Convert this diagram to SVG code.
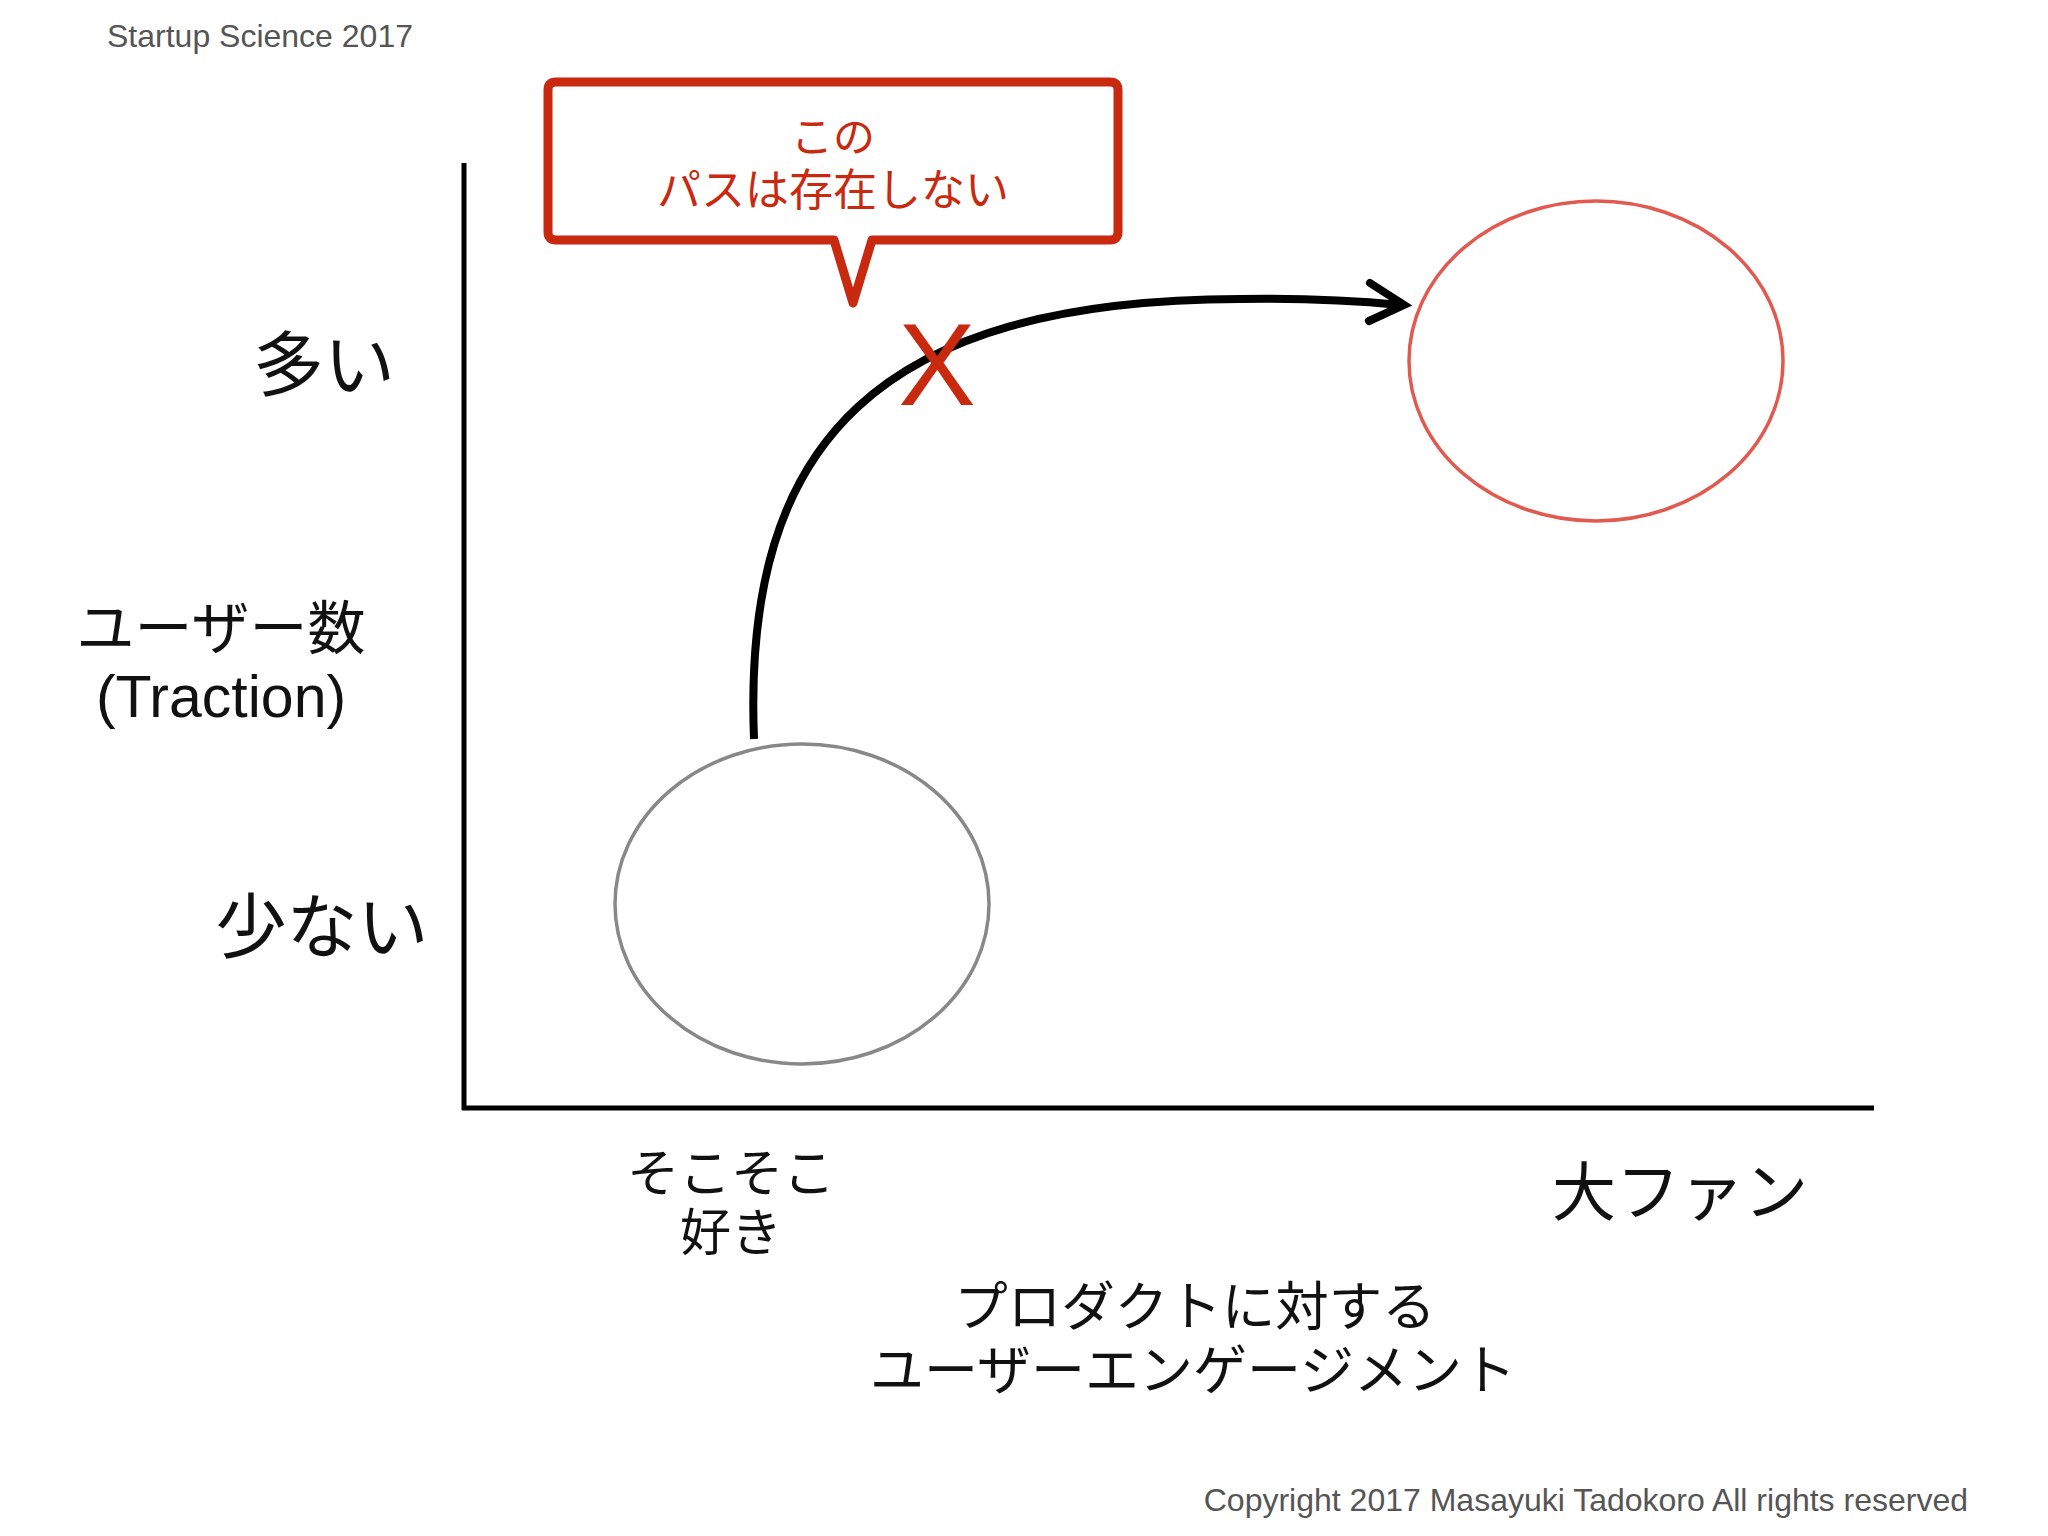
<svg xmlns="http://www.w3.org/2000/svg" width="2048" height="1536" viewBox="0 0 2048 1536">
<style>
.meta{font-family:"Liberation Sans",Arial,sans-serif;font-size:32px;fill:#555555}
.jp{font-family:"Noto Sans CJK JP","Noto Sans",sans-serif;fill:#111111}
.red{fill:#c8290f}
.axis{stroke:#000;stroke-width:5;fill:none}
</style>
<rect width="2048" height="1536" fill="#ffffff"/>
<text class="meta" x="107" y="47">Startup Science 2017</text>
<text class="meta" x="1968" y="1511" text-anchor="end">Copyright 2017 Masayuki Tadokoro All rights reserved</text>

<g id="axes">
<line class="axis" x1="464" y1="163" x2="464" y2="1110"/>
<line class="axis" x1="462" y1="1108" x2="1874" y2="1108"/>
</g>

<g id="y-labels" class="jp" text-anchor="middle">
<text x="324" y="390" font-size="71">多い</text>
<text x="221" y="649" font-size="58">ユーザー数</text>
<text x="221" y="717" font-size="59" style="font-family:'Liberation Sans',Arial,sans-serif">(Traction)</text>
<text x="322" y="952" font-size="71">少ない</text>
</g>

<g id="x-labels" class="jp" text-anchor="middle">
<text x="731" y="1192" font-size="52">そこそこ</text>
<text x="731" y="1251" font-size="51">好き</text>
<text x="1680" y="1215" font-size="64">大ファン</text>
<text x="1195" y="1326" font-size="53.5">プロダクトに対する</text>
<text x="1193" y="1390" font-size="54">ユーザーエンゲージメント</text>
</g>

<g id="node-somewhat">
<ellipse cx="802" cy="904" rx="187" ry="160" fill="none" stroke="#888888" stroke-width="3.5"/>
</g>
<g id="node-bigfan">
<ellipse cx="1596" cy="361" rx="187" ry="160" fill="none" stroke="#e05a50" stroke-width="3.5"/>
</g>

<g id="connectors">
<path d="M 754 739 C 742 440, 880 300, 1240 299 C 1310 298, 1360 301, 1400 305" fill="none" stroke="#000" stroke-width="8"/>
<polyline points="1370,283 1404,305 1369,321" fill="none" stroke="#000" stroke-width="8" stroke-linecap="round" stroke-linejoin="miter"/>
</g>

<g id="x-mark">
<text x="937" y="405" font-size="116" text-anchor="middle" class="red" style="font-family:'Liberation Sans',Arial,sans-serif">X</text>
</g>

<g id="callout">
<path d="M 556 82 H 1110 Q 1118 82 1118 90 V 232 Q 1118 240 1110 240 H 872 L 853 303 L 834 240 H 556 Q 548 240 548 232 V 90 Q 548 82 556 82 Z" fill="#ffffff" stroke="#c8290f" stroke-width="9" stroke-linejoin="round"/>
<text class="jp red" x="833" y="152" font-size="42" text-anchor="middle">この</text>
<text class="jp red" x="833" y="206" font-size="44" text-anchor="middle">パスは存在しない</text>
</g>
</svg>
